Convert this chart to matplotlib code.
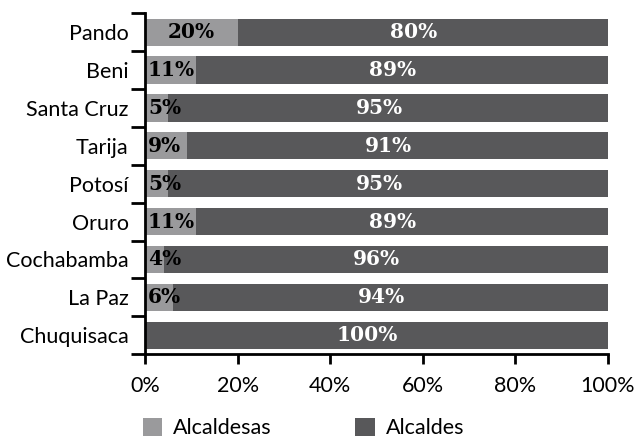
import numpy as np
import matplotlib.pyplot as plt
from matplotlib.ticker import FixedLocator, NullFormatter

# departamentos, de abajo hacia arriba
departamentos = ["Chuquisaca", "La Paz", "Cochabamba", "Oruro", "Potosí",
                 "Tarija", "Santa Cruz", "Beni", "Pando"]
alcaldesas = [0, 6, 4, 11, 5, 9, 5, 11, 20]
alcaldes = [100, 94, 96, 89, 95, 91, 95, 89, 80]

gris_claro = "#9a9a9c"
gris_oscuro = "#58585a"
fuente = "Lato"
fuente_num = "DejaVu Serif"

fig = plt.figure(figsize=(6.4, 4.4), dpi=100)
ax = fig.add_axes([0.227, 0.195, 0.723, 0.775])

y = np.arange(len(departamentos))
b1 = ax.barh(y, alcaldesas, height=0.72, color=gris_claro, label="Alcaldesas")
b2 = ax.barh(y, alcaldes, left=alcaldesas, height=0.72, color=gris_oscuro, label="Alcaldes")

# etiquetas de porcentaje
for i, (a, b) in enumerate(zip(alcaldesas, alcaldes)):
    if a > 0:
        if a >= 15:
            ax.text(a / 2, i, f"{a}%", ha="center", va="center", fontsize=14.5,
                    fontweight="bold", family=fuente_num, color="black")
        else:
            ax.text(0.6, i, f"{a}%", ha="left", va="center", fontsize=14.5,
                    fontweight="bold", family=fuente_num, color="black")
    ax.text(a + b / 2 - 2, i, f"{b}%", ha="center", va="center", fontsize=14.5,
            fontweight="bold", family=fuente_num, color="white")

ax.set_xlim(0, 100)
ax.set_ylim(-0.5, len(departamentos) - 0.5)
ax.set_xticks([0, 20, 40, 60, 80, 100])
ax.set_xticklabels(["0%", "20%", "40%", "60%", "80%", "100%"],
                   family=fuente, fontsize=15.5)

# nombres en el centro, marcas en los bordes de cada barra
ax.set_yticks(y)
ax.set_yticklabels(departamentos, family=fuente, fontsize=15.5)
ax.tick_params(axis="y", which="major", length=0, pad=12)
ax.yaxis.set_minor_locator(FixedLocator(np.arange(-0.5, len(departamentos), 1.0)))
ax.yaxis.set_minor_formatter(NullFormatter())
ax.tick_params(axis="y", which="minor", length=10, width=2, color="black")
ax.tick_params(axis="x", length=7, width=2, color="black", pad=9)

for s in ["top", "right"]:
    ax.spines[s].set_visible(False)
for s in ["left", "bottom"]:
    ax.spines[s].set_linewidth(2)

fig.legend(handles=[b1, b2], loc="lower center", bbox_to_anchor=(0.474, -0.04),
           ncol=2, frameon=False, prop={"family": fuente, "size": 15.5},
           handlelength=0.9, handleheight=0.9, columnspacing=3.9, handletextpad=0.5)

fig.savefig("out.png", dpi=100)
